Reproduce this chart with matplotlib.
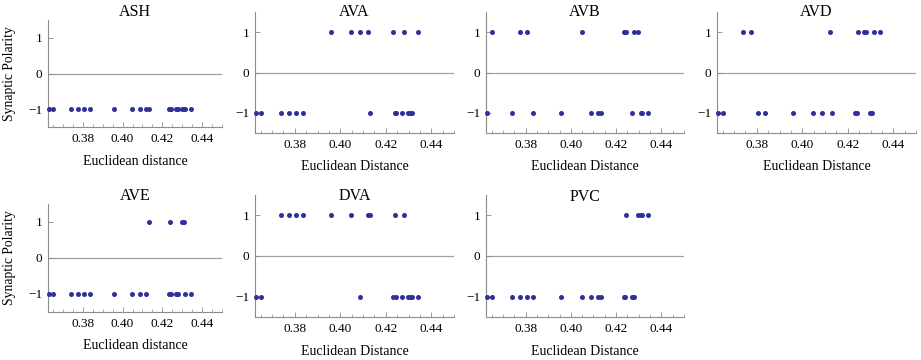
import matplotlib
matplotlib.use("Agg")
import matplotlib.pyplot as plt
from matplotlib.ticker import MultipleLocator, FormatStrFormatter

plt.rcParams['font.family'] = ['Liberation Serif', 'DejaVu Serif']

# euclidean distances shared by all panels
distances = [0.3629, 0.3651, 0.3741, 0.3774, 0.3806, 0.3834, 0.3957, 0.4049,
             0.4088, 0.4120, 0.4132, 0.4233, 0.4239, 0.4245, 0.4270, 0.4278,
             0.4297, 0.4308, 0.4316, 0.4343]

ash = [-1, -1, -1, -1, -1, -1, -1, -1, -1, -1, -1, -1, -1, -1, -1, -1, -1, -1, -1, -1]
ava = [-1, -1, -1, -1, -1, -1, 1, 1, 1, 1, -1, 1, -1, -1, -1, 1, -1, -1, -1, 1]
avb = [-1, 1, -1, 1, 1, -1, -1, 1, -1, -1, -1, 1, 1, 1, -1, 1, 1, -1, -1, -1]
avd = [-1, -1, 1, 1, -1, -1, -1, -1, -1, 1, -1, -1, -1, 1, 1, 1, -1, -1, 1, 1]
ave = [-1, -1, -1, -1, -1, -1, -1, -1, -1, -1, 1, -1, 1, -1, -1, -1, 1, 1, -1, -1]
dva = [-1, -1, 1, 1, 1, 1, 1, 1, -1, 1, 1, -1, 1, -1, -1, 1, -1, -1, -1, -1]
pvc = [-1, -1, -1, -1, -1, -1, -1, -1, -1, -1, -1, -1, -1, 1, -1, -1, 1, 1, 1, 1]

W, H = 921, 360
fig = plt.figure(figsize=(W / 100, H / 100), dpi=100)

# (name, values, left, top, right, bottom in px, title y px, xlabel text, xlabel y px, ylabel?)
panels = [
    ("ASH", ash, 48, 20, 222, 127, 12.5, "Euclidean distance", 161.7, True),
    ("AVA", ava, 255, 12, 454, 133, 11.5, "Euclidean Distance", 166.7, False),
    ("AVB", avb, 486, 12, 684, 133, 12.5, "Euclidean Distance", 166.7, False),
    ("AVD", avd, 717, 12, 916, 133, 12.5, "Euclidean Distance", 166.7, False),
    ("AVE", ave, 48, 204, 222, 312, 196, "Euclidean distance", 345.7, True),
    ("DVA", dva, 255, 195, 454, 317, 196, "Euclidean Distance", 351.7, False),
    ("PVC", pvc, 486, 195, 684, 317, 197, "Euclidean Distance", 351.7, False),
]

axis_gray = "#8c8c8c"
dot_color = "#30309a"

for name, vals, l, t, r, b, ty, xl, xly, show_ylab in panels:
    ax = fig.add_axes([l / W, (H - b) / H, (r - l) / W, (b - t) / H])
    h = b - t
    ax.axhline(0, color="#a0a0a0", lw=0.9, zorder=1)
    ax.scatter(distances, vals, s=13, color=dot_color, zorder=3, clip_on=False,
               linewidths=0)
    ax.set_xlim(0.3625, 0.45)
    ax.set_ylim(-1.5, 1.5)
    ax.xaxis.set_major_locator(MultipleLocator(0.02))
    ax.xaxis.set_minor_locator(MultipleLocator(0.005))
    ax.xaxis.set_major_formatter(FormatStrFormatter("%.2f"))
    ax.set_yticks([-1, 0, 1])
    ax.set_yticklabels(["\u22121", "0", "1"])
    for side in ("top", "right"):
        ax.spines[side].set_visible(False)
    for side in ("left", "bottom"):
        ax.spines[side].set_color(axis_gray)
        ax.spines[side].set_linewidth(0.8)
    ax.tick_params(axis="both", which="major", direction="in", length=3.5,
                   width=0.6, color=axis_gray, labelsize=9.5, pad=4)
    ax.tick_params(axis="x", which="minor", direction="in", length=2,
                   width=0.5, color=axis_gray)
    ax.text(0.5, 1 + (t - ty) / h, name, transform=ax.transAxes,
            ha="center", va="center", fontsize=11.5)
    ax.set_xlabel(xl, fontsize=10)
    ax.xaxis.set_label_coords(0.5, -(xly - b) / h)
    ax.xaxis.label.set_va("center")
    if show_ylab:
        ax.set_ylabel("Synaptic Polarity", fontsize=9.8)
        ax.yaxis.set_label_coords(-(l - 10) / (r - l), 0.5)
        ax.yaxis.label.set_va("center")

fig.savefig("out.png", dpi=100)
